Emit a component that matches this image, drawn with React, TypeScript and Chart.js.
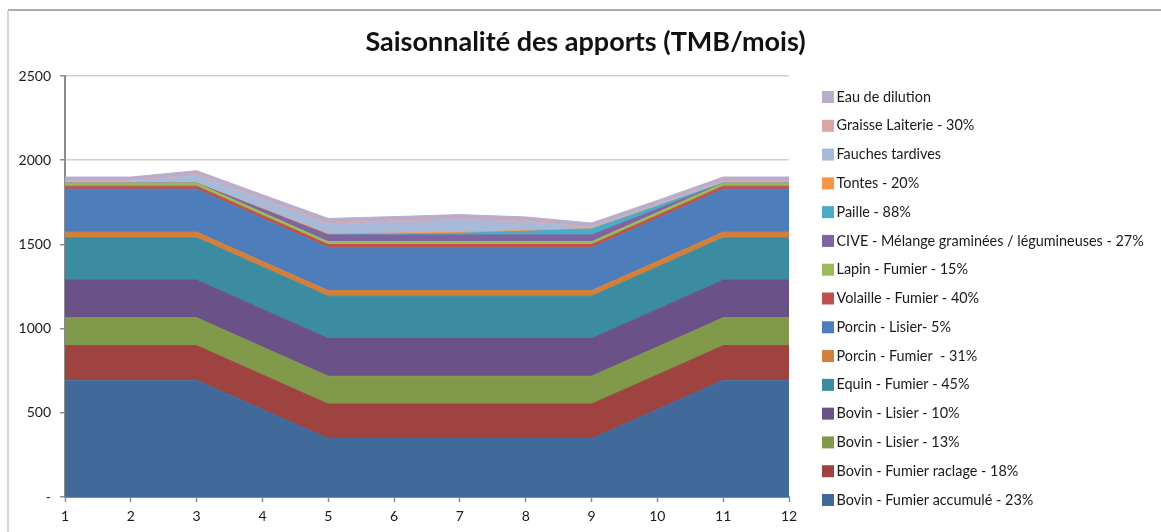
import React, { useEffect, useRef } from 'react';
import { Chart, registerables } from 'chart.js';

Chart.register(...registerables);

const months = ['1', '2', '3', '4', '5', '6', '7', '8', '9', '10', '11', '12'];

const bovinFumierAccumule = [694, 694, 694, 520, 347, 347, 347, 347, 347, 520, 694, 694];
const bovinFumierRaclage = [205, 205, 205, 205, 205, 205, 205, 205, 205, 205, 205, 205];
const bovinLisier13 = [165, 165, 165, 165, 165, 165, 165, 165, 165, 165, 165, 165];
const bovinLisier10 = [224, 224, 224, 224, 224, 224, 224, 224, 224, 224, 224, 224];
const equinFumier = [251, 251, 251, 251, 251, 251, 251, 251, 251, 251, 251, 251];
const porcinFumier = [34, 34, 34, 34, 34, 34, 34, 34, 34, 34, 34, 34];
const porcinLisier = [255, 255, 255, 255, 255, 255, 255, 255, 255, 255, 255, 255];
const volailleFumier = [18, 18, 18, 18, 18, 18, 18, 18, 18, 18, 18, 18];
const lapinFumier = [17, 17, 17, 17, 17, 17, 17, 17, 17, 17, 17, 17];
const cive = [0, 0, 0, 20, 40, 40, 40, 40, 40, 20, 0, 0];
const paille = [0, 0, 0, 0, 0, 5, 10, 22, 35, 18, 0, 0];
const tontes = [0, 0, 2, 4, 6, 6, 5, 5, 2, 1, 0, 0];
const fauchesTardives = [12, 12, 45, 53, 56, 65, 72, 50, 8, 8, 12, 12];
const graisseLaiterie = [5, 5, 6, 6, 8, 8, 8, 8, 6, 5, 5, 5];
const eauDilution = [20, 20, 22, 23, 28, 25, 26, 22, 20, 20, 20, 20];

const seriesNames = [
  'Bovin - Fumier accumulé - 23%',
  'Bovin - Fumier raclage - 18%',
  'Bovin - Lisier - 13%',
  'Bovin - Lisier - 10%',
  'Equin - Fumier - 45%',
  'Porcin - Fumier  - 31%',
  'Porcin - Lisier- 5%',
  'Volaille - Fumier - 40%',
  'Lapin - Fumier - 15%',
  'CIVE - Mélange graminées / légumineuses - 27%',
  'Paille - 88%',
  'Tontes - 20%',
  'Fauches tardives',
  'Graisse Laiterie - 30%',
  'Eau de dilution',
];

const seriesValues = [
  bovinFumierAccumule,
  bovinFumierRaclage,
  bovinLisier13,
  bovinLisier10,
  equinFumier,
  porcinFumier,
  porcinLisier,
  volailleFumier,
  lapinFumier,
  cive,
  paille,
  tontes,
  fauchesTardives,
  graisseLaiterie,
  eauDilution,
];

const seriesColors = [
  '#41699A',
  '#9E4340',
  '#81994A',
  '#6A5187',
  '#3B8CA1',
  '#D17F3A',
  '#4D7EBB',
  '#C0504D',
  '#9BBB59',
  '#8064A2',
  '#4BACC6',
  '#F79646',
  '#A9B9DA',
  '#D9A7A6',
  '#B9ADCD',
];

const yTicks = [0, 500, 1000, 1500, 2000, 2500];

const FONT = 'Lato';

const framePlugin = {
  id: 'frame',
  beforeDraw(chart: any) {
    const { ctx } = chart;
    ctx.save();
    ctx.fillStyle = '#ffffff';
    ctx.fillRect(0, 0, chart.width, chart.height);
    ctx.strokeStyle = '#ABABAB';
    ctx.lineWidth = 2;
    ctx.beginPath();
    ctx.moveTo(8, 10);
    ctx.lineTo(chart.width, 10);
    ctx.stroke();
    ctx.strokeStyle = '#C8C8C8';
    ctx.lineWidth = 1.5;
    ctx.beginPath();
    ctx.moveTo(8, 10);
    ctx.lineTo(8, chart.height);
    ctx.stroke();
    ctx.restore();
  },
};

// Legend drawn from the chart's datasets (reverse order, like the original)
const sideLegendPlugin = {
  id: 'sideLegend',
  afterDraw(chart: any) {
    const { ctx, chartArea } = chart;
    const ds = chart.data.datasets.slice().reverse();
    const boxX = chartArea.right + 33;
    const firstY = chartArea.top + 21;
    const step = (chartArea.bottom + 3 - firstY) / (ds.length - 1);
    ctx.save();
    ctx.font = `14.4px ${FONT}`;
    ctx.textBaseline = 'middle';
    ctx.textAlign = 'left';
    ds.forEach((d: any, i: number) => {
      const cy = firstY + i * step;
      ctx.fillStyle = d.backgroundColor;
      ctx.fillRect(boxX, cy - 6, 12, 12);
      ctx.fillStyle = '#1a1a1a';
      ctx.fillText(d.label, boxX + 14.5, cy);
    });
    ctx.restore();
  },
};

export default function App() {
  const ref = useRef<HTMLCanvasElement>(null);

  useEffect(() => {
    if (!ref.current) return;
    const chart = new Chart(ref.current, {
      type: 'line',
      data: {
        labels: months,
        datasets: seriesNames.map((name, i) => ({
          label: name,
          data: seriesValues[i],
          backgroundColor: seriesColors[i],
          borderColor: seriesColors[i],
          borderWidth: 1,
          pointRadius: 0,
          pointHoverRadius: 0,
          tension: 0,
          fill: i === 0 ? 'origin' : '-1',
        })),
      },
      options: {
        responsive: false,
        animation: false,
        layout: { padding: { left: 10, top: 10, right: 0, bottom: 10 } },
        plugins: {
          title: {
            display: true,
            text: 'Saisonnalité des apports (TMB/mois)',
            color: '#111111',
            font: { family: FONT, size: 27, weight: 'bold' },
            padding: { top: 15.8, bottom: 17.8 },
          },
          legend: { display: false },
          tooltip: { enabled: false },
        },
        scales: {
          x: {
            offset: false,
            grid: {
              drawOnChartArea: false,
              tickLength: 5,
              tickColor: '#8C8C8C',
              tickWidth: 1.5,
            },
            border: { color: '#8C8C8C', width: 2 },
            ticks: {
              padding: 6,
              autoSkip: false,
              maxRotation: 0,
              color: '#1a1a1a',
              font: { family: FONT, size: 14 },
            },
            afterFit: (s: any) => {
              s.height = 25;
            },
          },
          y: {
            stacked: true,
            min: 0,
            max: 2500,
            afterBuildTicks: (s: any) => {
              s.ticks = yTicks.map((v) => ({ value: v }));
            },
            ticks: {
              padding: 9,
              color: '#1a1a1a',
              font: { family: FONT, size: 14 },
              callback: (v: any) => (Number(v) === 0 ? '-' : String(v)),
            },
            grid: {
              color: '#D0D0D0',
              lineWidth: 1.5,
              tickLength: 5,
              tickColor: '#8C8C8C',
              tickWidth: 1.5,
            },
            border: { color: '#8C8C8C', width: 2 },
            afterFit: (s: any) => {
              s.width = 55;
            },
          },
          y2: {
            position: 'right',
            display: true,
            grid: { display: false },
            ticks: { display: false },
            border: { display: false },
            afterFit: (s: any) => {
              s.width = 372;
            },
          },
        },
      },
      plugins: [framePlugin, sideLegendPlugin],
    } as any);
    return () => chart.destroy();
  }, []);

  return (
    <div style={{ position: 'fixed', left: 0, top: 0, width: 1161, height: 532, background: '#fff' }}>
      <canvas ref={ref} width={1161} height={532} style={{ display: 'block', width: 1161, height: 532 }} />
    </div>
  );
}
